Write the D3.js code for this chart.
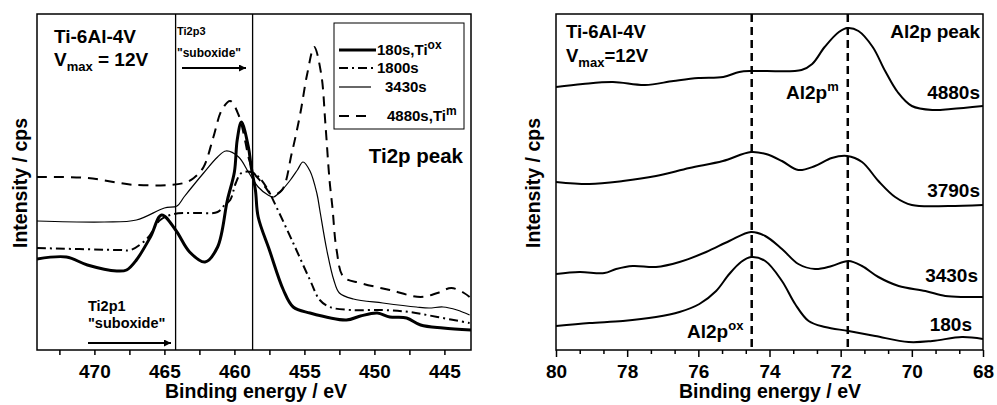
<!DOCTYPE html>
<html>
<head>
<meta charset="utf-8">
<script src="https://cdn.jsdelivr.net/npm/d3@7"></script>
<style>
  body { margin: 0; background: #fff; }
  text { font-family: "Liberation Sans", Arial, sans-serif; font-weight: bold; fill: #000; }
</style>
</head>
<body>
<svg width="997" height="405"></svg>
<script>
// ---- Ti2p panel data (binding energy eV, intensity a.u.) ----
const tiEnergy180 = [474.1, 472.0, 470.5, 468.4, 467.7, 467.0, 466.0, 465.2, 464.2, 463.2, 462.1, 461.2, 460.5, 460.0, 459.8, 459.5, 459.0, 458.8, 458.5, 458.3, 457.5, 456.5, 455.8, 454.6, 452.0, 451.0, 449.8, 448.9, 447.7, 446.7, 445.1, 443.1];
const tiCounts180 = [91, 93, 85, 79, 80, 90, 113, 135, 120, 98, 88, 103, 150, 178, 210, 228, 203, 183, 160, 133, 100, 60, 43, 37, 30, 34, 37, 33, 32, 25, 22, 20];

const tiEnergy1800 = [474.1, 468.2, 467.4, 466.2, 465.3, 464.3, 462.9, 461.2, 460.7, 460.3, 459.9, 459.5, 458.8, 458.2, 457.6, 457.0, 455.8, 454.6, 453.9, 453.2, 451.7, 449.4, 447.5, 445.5, 443.2];
const tiCounts1800 = [102, 100, 100, 112, 130, 136, 137, 138, 145, 150, 167, 177, 178, 172, 160, 143, 107, 70, 50, 43, 40, 40, 38, 33, 27];

const tiEnergy3430 = [474.1, 469.3, 467.0, 465.0, 464.1, 463.6, 462.2, 461.2, 460.6, 459.7, 459.0, 458.3, 457.6, 457.2, 456.6, 456.0, 455.5, 455.1, 454.6, 454.1, 453.9, 453.4, 452.9, 452.5, 451.5, 449.4, 447.0, 446.1, 445.1, 444.1, 443.2];
const tiCounts3430 = [129, 128, 130, 142, 144, 153, 177, 193, 199, 193, 178, 163, 155, 153, 160, 170, 180, 188, 179, 156, 140, 100, 70, 57, 51, 47, 43, 42, 43, 40, 35];

const tiEnergy4880 = [474.1, 470.5, 467.0, 463.6, 462.9, 462.2, 461.5, 460.9, 460.3, 459.7, 459.2, 459.0, 458.6, 458.2, 457.8, 457.3, 456.6, 455.9, 455.3, 454.8, 454.3, 453.8, 453.5, 453.2, 453.0, 452.7, 452.2, 451.0, 448.9, 446.7, 445.5, 444.5, 443.6, 443.2];
const tiCounts4880 = [173, 172, 165, 167, 172, 183, 213, 240, 249, 235, 207, 193, 177, 170, 163, 155, 160, 197, 236, 276, 303, 276, 226, 169, 143, 100, 73, 67, 60, 53, 57, 62, 57, 53];

const tiTicks = [470, 465, 460, 455, 450, 445];
const tiRefLines = [464.2, 458.7];

// ---- Al2p panel data ----
const alEnergy4880 = [80.0, 79.25, 78.4, 77.5, 76.7, 76.0, 75.3, 74.85, 74.5, 74.1, 73.1, 72.8, 72.45, 72.05, 71.8, 71.5, 71.1, 70.75, 70.4, 70.0, 69.4, 68.9, 68.0];
const alCounts4880 = [263, 266, 268, 265, 269, 272, 273, 278, 279, 279, 280, 286, 303, 318, 322, 319, 303, 279, 258, 244, 240, 241, 244];

const alEnergy3790 = [80.0, 79.06, 78.12, 77.19, 76.25, 75.31, 74.52, 74.1, 73.65, 73.19, 72.72, 72.25, 71.82, 71.4, 70.94, 70.47, 70.0, 68.97, 68.0];
const alCounts3790 = [168, 166, 169, 174, 182, 189, 198, 196, 189, 180, 184, 192, 194, 188, 169, 153, 145, 144, 145];

const alEnergy3430 = [80.0, 79.34, 78.64, 78.31, 77.84, 77.19, 76.53, 75.78, 75.13, 74.52, 74.12, 73.65, 73.19, 72.72, 72.25, 71.78, 71.4, 70.94, 70.37, 69.62, 69.06, 68.5, 68.0];
const alCounts3430 = [76, 78, 77, 81, 84, 83, 88, 98, 109, 118, 114, 101, 86, 81, 84, 89, 84, 73, 64, 59, 54, 53, 53];

const alEnergy180 = [80.0, 79.06, 78.12, 77.19, 76.53, 75.97, 75.5, 75.13, 74.8, 74.52, 74.12, 73.65, 73.28, 72.9, 72.44, 71.78, 71.03, 70.09, 69.43, 68.59, 68.0];
const alCounts180 = [24, 27, 29, 33, 38, 46, 59, 76, 88, 93, 89, 69, 46, 29, 23, 19, 14, 8, 9, 13, 11];

const alTicks = [80, 78, 76, 74, 72, 70, 68];
const alRefLines = [74.5, 71.8];
const alSeriesNames = ['4880s', '3790s', '3430s', '180s'];

const zip = (xs, ys) => xs.map((x, i) => ({energy: x, counts: ys[i]}));

const svg = d3.select('svg');

svg.append('defs').append('marker')
  .attr('id', 'arrow').attr('viewBox', '0 0 10 10')
  .attr('refX', 10).attr('refY', 5)
  .attr('markerWidth', 11).attr('markerHeight', 7)
  .attr('markerUnits', 'userSpaceOnUse')
  .attr('orient', 'auto')
  .append('path').attr('d', 'M0,0L10,5L0,10Z').attr('fill', '#000');

function panel(opt) {
  const {left, right, top, bottom} = opt;
  const xScale = d3.scaleLinear().domain(opt.xDomain).range([left, right]);
  const yScale = d3.scaleLinear().domain([0, 336]).range([bottom, top]);
  const g = svg.append('g');

  // minor + major ticks, pointing out
  const minorAxis = d3.axisBottom(xScale)
    .tickValues(opt.minorTicks)
    .tickSize(opt.minorLen)
    .tickFormat('');
  const mg = g.append('g').attr('transform', `translate(0,${bottom})`).call(minorAxis);
  mg.select('.domain').remove();
  mg.selectAll('line').attr('stroke', '#000').attr('stroke-width', 1.5);

  const xAxis = d3.axisBottom(xScale)
    .tickValues(opt.ticks)
    .tickSize(opt.majorLen)
    .tickPadding(opt.pad)
    .tickFormat(d3.format('d'));
  const xg = g.append('g').attr('transform', `translate(0,${bottom})`).call(xAxis);
  xg.select('.domain').remove();
  xg.selectAll('line').attr('stroke', '#000').attr('stroke-width', 1.5);
  xg.selectAll('text')
    .attr('dy', null)
    .attr('y', 378 - bottom)
    .style('font-size', '19px')
    .style('font-family', '"Liberation Sans", Arial, sans-serif')
    .style('font-weight', 'bold')
    .attr('fill', '#000');

  g.append('text')
    .attr('x', opt.xLabelX)
    .attr('y', 398)
    .attr('text-anchor', 'middle')
    .style('font-size', '19.5px')
    .text('Binding energy / eV');

  g.append('text')
    .attr('transform', `translate(${opt.yLabelX},183) rotate(-90)`)
    .attr('text-anchor', 'middle')
    .style('font-size', '19.5px')
    .text('Intensity / cps');

  const clipId = 'clip' + Math.round(left);
  svg.append('clipPath').attr('id', clipId)
    .append('rect').attr('x', left).attr('y', top)
    .attr('width', right - left).attr('height', bottom - top);

  const line = d3.line()
    .x(d => xScale(d.energy))
    .y(d => yScale(d.counts))
    .curve(d3.curveCatmullRom.alpha(0.5));

  g.selectAll('.ref').data(opt.refLines).join('line')
    .attr('x1', d => xScale(d)).attr('x2', d => xScale(d))
    .attr('y1', top).attr('y2', bottom)
    .attr('stroke', '#000')
    .attr('stroke-width', opt.refWidth)
    .attr('stroke-dasharray', opt.refDash);

  const cg = g.append('g').attr('clip-path', `url(#${clipId})`);
  opt.series.forEach(s => {
    cg.append('path')
      .attr('d', line(s.data))
      .attr('fill', 'none')
      .attr('stroke', '#000')
      .attr('stroke-width', s.width)
      .attr('stroke-dasharray', s.dash)
      .attr('stroke-linejoin', 'round');
  });

  g.append('rect')
    .attr('x', left).attr('y', top)
    .attr('width', right - left).attr('height', bottom - top)
    .attr('fill', 'none').attr('stroke', '#000').attr('stroke-width', 1.5);

  return g;
}

function supText(g, x, y, size, base, sup, supSize, anchor) {
  const t = g.append('text').attr('x', x).attr('y', y).style('font-size', size + 'px');
  if (anchor) t.attr('text-anchor', anchor);
  t.append('tspan').text(base);
  if (sup) t.append('tspan').attr('dy', -size * 0.4).style('font-size', supSize + 'px').text(sup);
  return t;
}

// ---------- left panel ----------
const tiStyles = [
  {width: 3, dash: null},
  {width: 2, dash: '9,4,2,4'},
  {width: 1.2, dash: null},
  {width: 2, dash: '10,7'}
];
const tiData = [
  zip(tiEnergy180, tiCounts180),
  zip(tiEnergy1800, tiCounts1800),
  zip(tiEnergy3430, tiCounts3430),
  zip(tiEnergy4880, tiCounts4880)
];

const gl = panel({
  left: 37, right: 471, top: 14, bottom: 350,
  xDomain: [474.1, 443.1],
  ticks: tiTicks,
  minorTicks: d3.range(472.5, 443, -5),
  majorLen: 5, minorLen: 5, pad: 6,
  xLabelX: 256, yLabelX: 27,
  refLines: tiRefLines, refWidth: 1.3, refDash: null,
  series: tiData.map((d, i) => ({data: d, ...tiStyles[i]}))
});

gl.append('text').attr('x', 54).attr('y', 43).style('font-size', '19px').text('Ti-6Al-4V');
const vmaxL = gl.append('text').attr('x', 54).attr('y', 66).style('font-size', '19px');
vmaxL.append('tspan').text('V');
vmaxL.append('tspan').attr('dy', 5).style('font-size', '13px').text('max');
vmaxL.append('tspan').attr('dy', -5).text(' = 12V');

gl.append('text').attr('x', 177).attr('y', 35).style('font-size', '11px').text('Ti2p3');
gl.append('text').attr('x', 177).attr('y', 57).style('font-size', '12px').text('"suboxide"');
gl.append('text').attr('x', 88).attr('y', 311).style('font-size', '14.5px').text('Ti2p1');
gl.append('text').attr('x', 88).attr('y', 328).style('font-size', '14.5px').text('"suboxide"');

gl.append('line').attr('x1', 182).attr('x2', 246).attr('y1', 68).attr('y2', 68)
  .attr('stroke', '#000').attr('stroke-width', 2).attr('marker-end', 'url(#arrow)');
gl.append('line').attr('x1', 88).attr('x2', 171).attr('y1', 343).attr('y2', 343)
  .attr('stroke', '#000').attr('stroke-width', 2).attr('marker-end', 'url(#arrow)');

gl.append('text').attr('x', 463).attr('y', 163).attr('text-anchor', 'end')
  .style('font-size', '20.5px').text('Ti2p peak');

// legend
const legend = gl.append('g');
legend.append('rect').attr('x', 334).attr('y', 23).attr('width', 130).attr('height', 106)
  .attr('fill', '#fff').attr('stroke', '#000').attr('stroke-width', 1);
const legendY = [50, 68, 87, 116];
const legendEnd = [376, 376, 371, 366];
const legendTextX = [377, 377, 385, 387];
const legendLabels = [['180s,Ti', 'ox'], ['1800s', null], ['3430s', null], ['4880s,Ti', 'm']];
tiStyles.forEach((s, i) => {
  legend.append('line')
    .attr('x1', 339).attr('x2', legendEnd[i])
    .attr('y1', legendY[i]).attr('y2', legendY[i])
    .attr('stroke', '#000').attr('stroke-width', s.width)
    .attr('stroke-dasharray', s.dash);
  supText(legend, legendTextX[i], legendY[i] + 5, 15, legendLabels[i][0], legendLabels[i][1], 12);
});

// ---------- right panel ----------
const alData = [
  zip(alEnergy4880, alCounts4880),
  zip(alEnergy3790, alCounts3790),
  zip(alEnergy3430, alCounts3430),
  zip(alEnergy180, alCounts180)
];

const gr = panel({
  left: 556, right: 983, top: 14, bottom: 350,
  xDomain: [80, 68],
  ticks: alTicks,
  minorTicks: d3.range(0, 19).map(i => 80 - i * 2 / 3).filter((d, i) => i % 3 !== 0),
  majorLen: 7, minorLen: 4, pad: 5,
  xLabelX: 770, yLabelX: 540,
  refLines: alRefLines, refWidth: 2.5, refDash: '8,5',
  series: alData.map(d => ({data: d, width: 2, dash: null}))
});

gr.append('text').attr('x', 566).attr('y', 38).style('font-size', '18.5px').text('Ti-6Al-4V');
const vmaxR = gr.append('text').attr('x', 566).attr('y', 62).style('font-size', '18.5px');
vmaxR.append('tspan').text('V');
vmaxR.append('tspan').attr('dy', 5).style('font-size', '13px').text('max');
vmaxR.append('tspan').attr('dy', -5).text('=12V');

gr.append('text').attr('x', 980).attr('y', 38).attr('text-anchor', 'end').style('font-size', '19px').text('Al2p peak');

const alLabelY = [99, 197, 282, 331];
const alLabelX = [980, 980, 978, 972];
alSeriesNames.forEach((n, i) => {
  gr.append('text').attr('x', alLabelX[i]).attr('y', alLabelY[i])
    .attr('text-anchor', 'end').style('font-size', '19px').text(n);
});

supText(gr, 786, 99, 19, 'Al2p', 'm', 13);
supText(gr, 687, 338, 19, 'Al2p', 'ox', 13);
</script>
</body>
</html>
